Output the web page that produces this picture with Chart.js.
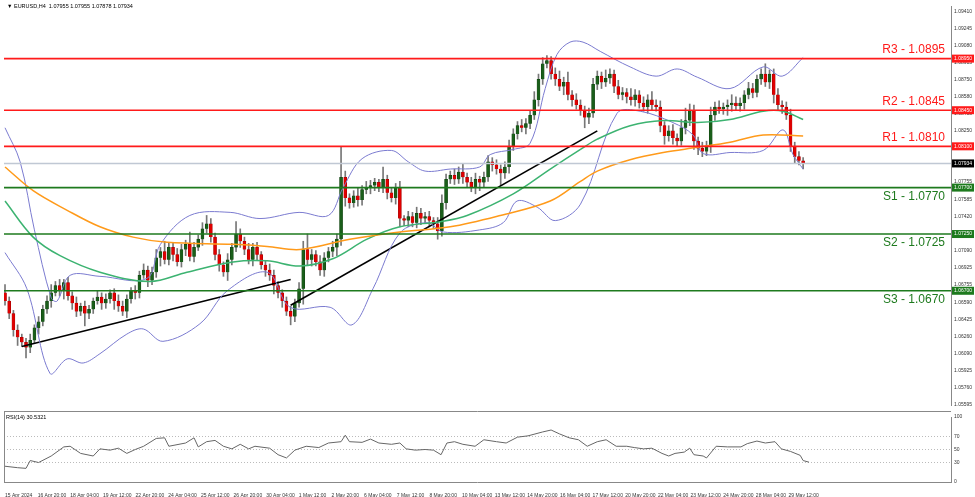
<!DOCTYPE html>
<html>
<head>
<meta charset="utf-8">
<script src="https://cdn.jsdelivr.net/npm/chart.js@4.4.1/dist/chart.umd.min.js"></script>
<style>
  body { margin: 0; background: #fff; width: 975px; height: 497px; overflow: hidden; position: relative; }
  #mainWrap { position: absolute; left: 0; top: 0; width: 975px; height: 411px; }
  #rsiWrap { position: absolute; left: 0; top: 411px; width: 975px; height: 86px; }
</style>
</head>
<body>
<div id="mainWrap"><canvas id="mainChart"></canvas></div>
<div id="rsiWrap"><canvas id="rsiChart"></canvas></div>
<script>
// H4 closes
const closes = [
  1.0660,1.0648,1.0632,1.0625,1.0620,1.0615,1.0622,1.0634,1.0640,1.0652,
  1.0660,1.0668,1.0675,1.0670,1.0678,1.0665,1.0658,1.0650,1.0655,1.0648,
  1.0652,1.0660,1.0664,1.0658,1.0662,1.0668,1.0660,1.0655,1.0650,1.0662,
  1.0670,1.0668,1.0685,1.0690,1.0680,1.0688,1.0702,1.0708,1.0700,1.0712,
  1.0705,1.0698,1.0710,1.0715,1.0703,1.0712,1.0720,1.0730,1.0735,1.0722,
  1.0705,1.0695,1.0688,1.0700,1.0712,1.0725,1.0718,1.0710,1.0700,1.0712,
  1.0705,1.0695,1.0690,1.0685,1.0675,1.0668,1.0660,1.0650,1.0645,1.0658,
  1.0672,1.0710,1.0700,1.0705,1.0698,1.0690,1.0702,1.0708,1.0712,1.0720,
  1.0780,1.0760,1.0755,1.0762,1.0758,1.0768,1.0770,1.0772,1.0775,1.0770,
  1.0778,1.0765,1.0760,1.0770,1.0740,1.0738,1.0742,1.0736,1.0745,1.0740,
  1.0742,1.0738,1.0735,1.0728,1.0755,1.0778,1.0782,1.0778,1.0785,1.0780,
  1.0775,1.0770,1.0778,1.0775,1.0780,1.0795,1.0792,1.0788,1.0784,1.0790,
  1.0810,1.0822,1.0830,1.0828,1.0832,1.0840,1.0855,1.0875,1.0890,1.0893,
  1.0880,1.0875,1.0868,1.0872,1.0860,1.0855,1.0850,1.0845,1.0838,1.0842,
  1.0870,1.0878,1.0872,1.0876,1.0880,1.0868,1.0860,1.0862,1.0858,1.0855,
  1.0860,1.0852,1.0848,1.0855,1.0850,1.0848,1.0830,1.0820,1.0825,1.0818,
  1.0815,1.0828,1.0835,1.0845,1.0815,1.0808,1.0805,1.0810,1.0840,1.0848,
  1.0846,1.0848,1.0850,1.0852,1.0849,1.0852,1.0860,1.0866,1.0862,1.0875,
  1.0880,1.0872,1.0880,1.0860,1.0850,1.0848,1.0840,1.0810,1.0800,1.0796,1.0793
];
const firstOpen = 1.0668;
// wick lengths in pips above / below the body
const wickUp = [
  8,4,3,5,3,4,6,3,5,4, 5,8,4,6,3,5,4,6,3,5, 4,3,6,4,5,3,4,6,5,4, 3,5,4,6,4,5,8,4,10,5,
  4,6,5,4,12,5,4,6,8,5, 4,5,3,6,4,12,5,4,6,4, 5,3,4,6,5,4,3,4,5,4, 6,8,15,5,4,6,5,4,6,5,
  30,6,4,5,8,4,6,5,4,3, 12,4,5,4,6,3,5,4,6,5, 4,5,3,6,8,5,4,6,5,8, 4,5,6,3,5,6,4,5,4,5,
  6,5,4,6,5,4,8,5,6,5, 4,6,8,5,10,4,6,5,4,5, 6,5,4,8,5,4,6,5,4,8, 5,4,6,5,8,5,6,4,5,6,
  4,8,12,6,5,4,6,5,8,5, 6,4,5,8,6,5,4,6,5,4, 5,10,4,5,6,4,5,6,4,5,3
];
const wickDn = [
  4,5,6,8,4,10,5,3,6,4, 4,6,3,5,8,4,6,5,4,12, 5,4,3,6,5,4,8,5,4,6, 4,6,5,3,6,4,5,8,4,5,
  6,4,5,6,4,5,3,6,4,5, 5,6,4,8,5,4,6,5,4,6, 5,4,6,5,8,5,6,4,8,5, 4,15,5,6,4,5,6,4,5,8,
  6,8,5,4,6,5,4,6,5,4, 5,6,4,6,8,5,6,4,5,6, 4,6,5,8,5,6,4,5,4,6, 5,4,6,8,5,4,6,5,12,5,
  6,4,5,4,6,5,4,6,5,4, 5,6,4,8,5,6,4,5,10,6, 4,5,6,4,5,6,4,5,6,5, 6,5,4,6,5,4,6,8,5,6,
  5,4,6,5,8,6,5,4,6,5, 4,5,8,6,4,5,6,4,5,4, 5,4,6,8,5,6,4,5,6,4,5
];

// indicator lines read at points: [bar, price]
const bbUpper = [[0,1.0828],[3.6,1.0795],[7,1.0729],[11,1.0663],[12.4,1.0660],[15.5,1.0685],[22.6,1.0684],[33.8,1.0682],[37,1.0715],[44,1.0743],[53.6,1.0746],[60.7,1.0740],[70,1.0746],[77,1.0743],[80.5,1.0770],[85,1.0798],[92,1.0806],[96,1.0795],[100,1.0786],[106,1.0788],[113,1.0790],[115.5,1.0802],[121,1.0807],[125,1.0813],[128.6,1.0866],[131.4,1.0899],[134.5,1.0911],[137.6,1.0911],[141.7,1.0902],[148.8,1.0887],[155,1.0878],[160,1.0885],[164.8,1.0877],[172.6,1.0866],[180.5,1.0887],[185,1.0878],[190,1.0896]];
const bbLower = [[0,1.0707],[5.2,1.0672],[10.7,1.0590],[14.8,1.0604],[18.6,1.0600],[22.6,1.0609],[29,1.0628],[32.9,1.0633],[37.6,1.0621],[46.4,1.0638],[52.9,1.0670],[62.4,1.0688],[67.9,1.0654],[77.4,1.0654],[82.6,1.0637],[87.6,1.0672],[94,1.0726],[100.5,1.0736],[104.3,1.0727],[113,1.0729],[118.6,1.0736],[121.9,1.0757],[126.7,1.0751],[131,1.0738],[137,1.0754],[145.7,1.0842],[151.2,1.0844],[159,1.0833],[163.8,1.0821],[166.2,1.0803],[172.6,1.0804],[180.5,1.0806],[185.2,1.0826],[187.6,1.0802],[190,1.0788]];
const maGreen = [[0,1.0757],[6.7,1.0722],[13.1,1.0704],[22.6,1.0688],[34.5,1.0679],[43.3,1.0688],[54.3,1.0698],[62.4,1.0699],[70.2,1.0694],[78,1.0701],[86.2,1.0720],[94,1.0732],[103.6,1.0737],[110,1.0743],[121,1.0764],[129.8,1.0788],[137,1.0807],[141,1.0817],[148.8,1.0830],[156.7,1.0835],[164.8,1.0833],[172.6,1.0836],[180.5,1.0844],[185.2,1.0844],[190,1.0836]];
const maOrange = [[0,1.0790],[6.7,1.0767],[14.8,1.0748],[22.6,1.0732],[30.5,1.0722],[38.6,1.0717],[54.3,1.0715],[62.4,1.0713],[70.2,1.0710],[82.1,1.0720],[94,1.0727],[106,1.0732],[117.9,1.0743],[129.8,1.0757],[137,1.0776],[141,1.0786],[148.8,1.0797],[156.7,1.0804],[164.8,1.0809],[172.6,1.0814],[180.5,1.0821],[190,1.0820]];
const trendLine1 = [[4,1.0616],[68,1.0681]];
const trendLine2 = [[68,1.0656],[141,1.0825]];

const resistLevels = [1.0895, 1.0845, 1.0810];
const resistNames = ['R3', 'R2', 'R1'];
const supportLevels = [1.0770, 1.0725, 1.0670];
const supportNames = ['S1', 'S2', 'S3'];
const lastPrice = 1.07934;

const priceTicks = [1.09410,1.09245,1.09080,1.08915,1.08750,1.08580,1.08415,1.08250,1.08085,1.07920,1.07755,1.07585,1.07420,1.07255,1.07090,1.06925,1.06755,1.06590,1.06425,1.06260,1.06090,1.05925,1.05760,1.05595];
const timeLabels = ['15 Apr 2024','16 Apr 20:00','18 Apr 04:00','19 Apr 12:00','22 Apr 20:00','24 Apr 04:00','25 Apr 12:00','26 Apr 20:00','30 Apr 04:00','1 May 12:00','2 May 20:00','6 May 04:00','7 May 12:00','8 May 20:00','10 May 04:00','13 May 12:00','14 May 20:00','16 May 04:00','17 May 12:00','20 May 20:00','22 May 04:00','23 May 12:00','24 May 20:00','28 May 04:00','29 May 12:00'];

// RSI(14) read at points: [bar, value]
const rsiPoints = [[-1,25],[3,22],[5,21],[6,33],[8,30],[11,40],[14,54],[15.5,55],[18,44],[21,40],[22.6,51],[25,49],[27,52],[29,44],[31,50],[33,55],[36,67],[38,68],[39,55],[43,60],[45,68],[46,54],[48,62],[50,64],[52,55],[54,51],[56,58],[58,51],[59.5,55],[63,52],[65,42],[67,37],[69,49],[71.7,55],[74.7,53],[77,60],[80,62],[81,72],[82,62],[85,61],[87,66],[89,60],[92,58],[94,60],[95.5,51],[97.7,49],[100,50],[102,49],[103.8,42],[105.2,60],[107,62],[109,58],[111.9,55],[114,65],[117,62],[119.3,60],[122,69],[124.5,71],[128,77],[130,80],[132,74],[134.3,68],[136.5,65],[138.6,55],[141,62],[143.1,65],[145.5,55],[148,55],[149.8,53],[152,51],[154,52],[156.4,44],[158,40],[159.5,44],[161.7,46],[163,52],[164,42],[166.2,40],[167,37],[169.3,55],[172,54],[175.2,54],[176.7,59],[179,63],[181,60],[183.3,62],[184.8,51],[187,47],[189.3,41],[190,33],[191.4,30.5]];

// build candles
const wickData = [];
const bodyUp = [];
const bodyDown = [];
closes.forEach(function (c, i) {
  const o = i === 0 ? firstOpen : closes[i - 1];
  const top = Math.max(o, c), bot = Math.min(o, c);
  wickData.push({ x: i, y: [bot - wickDn[i] / 10000, top + wickUp[i] / 10000] });
  const body = { x: i, y: [bot, top === bot ? top + 0.00003 : top] };
  if (c >= o) bodyUp.push(body); else bodyDown.push(body);
});

function pts(arr) { return arr.map(function (p) { return { x: p[0], y: p[1] }; }); }
function hline(y) { return [{ x: -5, y: y }, { x: 230, y: y }]; }

const X_MIN = -0.24, X_MAX = 225.2;
const barsPerLabel = 8 * 4.08 / 4.2;
const tinyFont = { size: 5, family: 'Arial, "Liberation Sans", sans-serif' };

const lineDs = function (data, color, width, extra) {
  return Object.assign({ type: 'line', data: data, borderColor: color, borderWidth: width, pointRadius: 0, tension: 0.35, fill: false }, extra || {});
};

const datasets = [];
resistLevels.forEach(function (v) { datasets.push(lineDs(hline(v), '#ff1a1a', 1.6, { tension: 0 })); });
supportLevels.forEach(function (v) { datasets.push(lineDs(hline(v), '#1e7a1e', 1.6, { tension: 0 })); });
datasets.push(lineDs(hline(lastPrice), '#c0c8d4', 1.5, { tension: 0 }));
datasets.push(lineDs(pts(maOrange), '#ff9a1a', 1.5));
datasets.push(lineDs(pts(maGreen), '#3cb371', 1.5));
datasets.push(lineDs(pts(bbUpper), '#7b7bd0', 1));
datasets.push(lineDs(pts(bbLower), '#7b7bd0', 1));
datasets.push(lineDs(pts(trendLine1), '#000', 1.6, { tension: 0 }));
datasets.push(lineDs(pts(trendLine2), '#000', 1.6, { tension: 0 }));
datasets.push({ type: 'bar', data: wickData, backgroundColor: '#777', barThickness: 1, grouped: false, order: 2 });
datasets.push({ type: 'bar', data: bodyUp, backgroundColor: '#1a5e1a', borderColor: '#0d3d0d', borderWidth: 0.5, barThickness: 3, grouped: false, order: 1 });
datasets.push({ type: 'bar', data: bodyDown, backgroundColor: '#e00000', borderColor: '#900', borderWidth: 0.5, barThickness: 3, grouped: false, order: 1 });

const levelLabels = {
  id: 'levelLabels',
  afterDatasetsDraw(chart) {
    const ctx = chart.ctx, y = chart.scales.y, area = chart.chartArea;
    ctx.save();
    ctx.font = '12px "Liberation Sans", Arial, sans-serif';
    ctx.textAlign = 'right';
    ctx.textBaseline = 'bottom';
    resistLevels.forEach(function (v, k) {
      ctx.fillStyle = '#ff1a1a';
      ctx.fillText(resistNames[k] + ' - ' + v.toFixed(4), area.right - 6, y.getPixelForValue(v) - 3);
    });
    supportLevels.forEach(function (v, k) {
      ctx.fillStyle = '#1e7a1e';
      ctx.textBaseline = 'top';
      ctx.fillText(supportNames[k] + ' - ' + v.toFixed(4), area.right - 6, y.getPixelForValue(v) + 3);
    });
    // axis tags
    ctx.font = '5px Arial, sans-serif';
    ctx.textAlign = 'left';
    ctx.textBaseline = 'middle';
    const tag = function (v, bg, txt) {
      const py = y.getPixelForValue(v);
      ctx.fillStyle = bg;
      ctx.fillRect(area.right + 1, py - 4, 22, 8);
      ctx.fillStyle = '#fff';
      ctx.fillText(txt, area.right + 3, py);
    };
    resistLevels.forEach(function (v) { tag(v, '#ff1a1a', v.toFixed(5)); });
    supportLevels.forEach(function (v) { tag(v, '#1e7a1e', v.toFixed(5)); });
    tag(lastPrice, '#000', lastPrice.toFixed(5));
    // header
    ctx.fillStyle = '#000';
    ctx.font = '5.5px Arial, sans-serif';
    ctx.fillText('\u25BC EURUSD,H4  1.07955 1.07955 1.07878 1.07934', area.left + 3, 6);
    ctx.restore();
  }
};

new Chart('mainChart', {
  data: { datasets: datasets },
  options: {
    responsive: true, maintainAspectRatio: false, animation: false,
    layout: { padding: { left: 4, top: 0, right: 0, bottom: 0 } },
    plugins: { legend: { display: false }, tooltip: { enabled: false } },
    scales: {
      x: { type: 'linear', min: X_MIN, max: X_MAX, offset: false, display: false },
      y: {
        position: 'right', min: 1.05593, max: 1.0946,
        grid: { display: false, drawTicks: false },
        border: { display: true, color: '#888', width: 1 },
        afterFit: function (s) { s.width = 24; },
        afterBuildTicks: function (s) { s.ticks = priceTicks.map(function (v) { return { value: v }; }); },
        ticks: { font: tinyFont, color: '#333', padding: 3, callback: function (v) { return Number(v).toFixed(5); } }
      }
    }
  },
  plugins: [levelLabels]
});

const rsiLabel = {
  id: 'rsiLabel',
  afterDraw(chart) {
    const ctx = chart.ctx, area = chart.chartArea;
    ctx.save();
    ctx.fillStyle = '#000';
    ctx.font = '5.5px Arial, sans-serif';
    ctx.textBaseline = 'middle';
    ctx.fillText('RSI(14) 30.5321', area.left + 2, 6);
    ctx.strokeStyle = '#888';
    ctx.beginPath();
    ctx.moveTo(area.left, 0.5); ctx.lineTo(area.right, 0.5);
    ctx.moveTo(area.left, area.bottom + 0.5); ctx.lineTo(area.right, area.bottom + 0.5);
    ctx.moveTo(area.left + 0.5, 0); ctx.lineTo(area.left + 0.5, area.bottom);
    ctx.stroke();
    ctx.restore();
  }
};

new Chart('rsiChart', {
  data: { datasets: [{ type: 'line', data: pts(rsiPoints), borderColor: '#666', borderWidth: 1, pointRadius: 0, tension: 0 }] },
  options: {
    responsive: true, maintainAspectRatio: false, animation: false,
    layout: { padding: { left: 4, top: 2, right: 0, bottom: 0 } },
    plugins: { legend: { display: false }, tooltip: { enabled: false } },
    scales: {
      x: {
        type: 'linear', min: X_MIN, max: X_MAX, offset: false,
        grid: { display: false },
        border: { display: false },
        afterBuildTicks: function (s) { s.ticks = timeLabels.map(function (t, k) { return { value: k * barsPerLabel }; }); },
        ticks: { font: tinyFont, color: '#333', maxRotation: 0, autoSkip: false, padding: 3, align: 'start',
          callback: function (v, k) { return timeLabels[k]; } },
        afterFit: function (s) { s.height = 15; s.paddingLeft = 0; s.paddingRight = 0; }
      },
      y: {
        position: 'right', min: 0, max: 100,
        grid: { color: function (c) { return [30, 50, 70].indexOf(c.tick.value) >= 0 ? '#bbb' : 'transparent'; }, drawTicks: false },
        border: { display: true, color: '#888', dash: [1, 2] },
        afterFit: function (s) { s.width = 24; },
        afterBuildTicks: function (s) { s.ticks = [0, 30, 50, 70, 100].map(function (v) { return { value: v }; }); },
        ticks: { font: tinyFont, color: '#333', padding: 3 }
      }
    }
  },
  plugins: [rsiLabel]
});
</script>
</body>
</html>
